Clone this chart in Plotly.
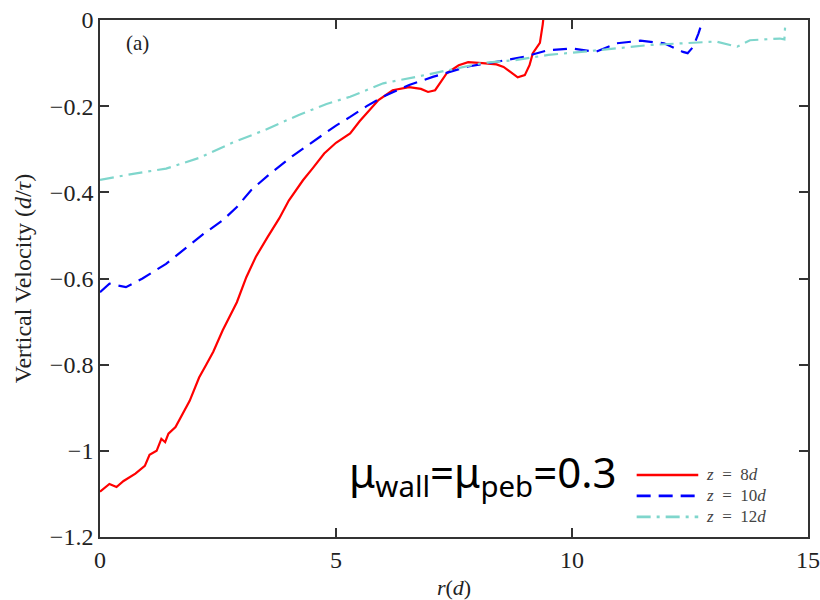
import plotly.graph_objects as go

# ---- data ----
r_z8 = [0, 0.2, 0.35, 0.5, 0.75, 0.95, 1.05, 1.2, 1.3, 1.38, 1.45, 1.6, 1.9, 2.1, 2.25, 2.4,
        2.6, 2.9, 3.1, 3.3, 3.55, 3.8, 4.0, 4.3, 4.5, 4.75, 5.0, 5.3, 5.5, 5.75, 5.9, 6.2,
        6.55, 6.8, 6.95, 7.1, 7.35, 7.6, 7.8, 8.1, 8.4, 8.55, 8.7, 8.85, 9.0, 9.1, 9.17,
        9.32, 9.38, 9.42]
v_z8 = [-1.095, -1.077, -1.084, -1.07, -1.053, -1.035, -1.009, -1.0, -0.972, -0.98, -0.96,
        -0.945, -0.884, -0.83, -0.80, -0.77, -0.72, -0.655, -0.597, -0.55, -0.504, -0.46,
        -0.419, -0.372, -0.345, -0.31, -0.285, -0.263, -0.235, -0.205, -0.186, -0.163,
        -0.156, -0.16, -0.167, -0.163, -0.123, -0.105, -0.098, -0.1, -0.103, -0.109,
        -0.121, -0.133, -0.128, -0.105, -0.077, -0.053, -0.01, 0.03]

r_z10 = [0, 0.2, 0.55, 0.9, 1.4, 1.75, 2.2, 2.6, 2.9, 3.2, 3.6, 4.1, 4.6, 5.0, 5.3, 5.65,
         6.0, 6.55, 7.05, 7.8, 8.4, 9.0, 9.5, 10.0, 10.5, 10.95, 11.45, 11.95, 12.35,
         12.45, 12.57, 12.68, 12.8]
v_z10 = [-0.632, -0.612, -0.62, -0.6, -0.566, -0.535, -0.496, -0.465, -0.434, -0.395,
         -0.357, -0.314, -0.275, -0.245, -0.225, -0.2, -0.178, -0.151, -0.132, -0.108,
         -0.097, -0.085, -0.07, -0.066, -0.074, -0.054, -0.048, -0.054, -0.074, -0.077,
         -0.062, -0.031, 0.01]

r_z12 = [0, 0.7, 1.4, 2.1, 2.8, 3.5, 4.2, 4.8, 5.3, 6.0, 6.7, 7.4, 8.1, 8.8, 9.5, 10.2,
         10.95, 11.65, 12.35, 13.05, 13.5, 13.77, 14.4, 14.5, 14.52]
v_z12 = [-0.371, -0.357, -0.345, -0.32, -0.285, -0.255, -0.221, -0.195, -0.178, -0.147,
         -0.132, -0.116, -0.1, -0.093, -0.081, -0.074, -0.066, -0.058, -0.054, -0.05,
         -0.062, -0.047, -0.043, -0.045, -0.005]

E = "\u2002"
series_names = [f"<i>z</i>{E}={E}8<i>d</i>", f"<i>z</i>{E}={E}10<i>d</i>", f"<i>z</i>{E}={E}12<i>d</i>"]
x_ticks = [0, 5, 10, 15]
y_ticks = [0, -0.2, -0.4, -0.6, -0.8, -1, -1.2]
y_ticktext = ["0", "−0.2", "−0.4", "−0.6", "−0.8", "−1", "−1.2"]

colors = ["#ff0000", "#0000ff", "#7fd6cc"]
dashes = ["solid", "14px,8px", "14px,6px,3px,6px"]

SERIF = "Liberation Serif"

fig = go.Figure()
for (rx, vy), c, d, n in zip([(r_z8, v_z8), (r_z10, v_z10), (r_z12, v_z12)], colors, dashes, series_names):
    fig.add_trace(go.Scatter(x=rx, y=vy, mode="lines", name=n,
                             line=dict(color=c, width=2.2, dash=d), showlegend=False))

# manual legend (line samples + labels, in paper coordinates)
leg_y = [0.12, 0.0795, 0.039]
shapes = []
annotations = []
for c, d, n, ly in zip(colors, dashes, series_names, leg_y):
    shapes.append(dict(type="line", xref="paper", yref="paper", x0=0.758, x1=0.845,
                       y0=ly, y1=ly, line=dict(color=c, width=2.6, dash=d)))
    annotations.append(dict(xref="paper", yref="paper", x=0.853, y=ly, xanchor="left",
                            yanchor="middle", text=n, showarrow=False,
                            font=dict(family=SERIF, size=17, color="#444")))

annotations.append(dict(xref="paper", yref="paper", x=0.034, y=0.955, xanchor="left",
                        yanchor="middle", text="(a)", showarrow=False,
                        font=dict(family=SERIF, size=21, color="#222")))
annotations.append(dict(xref="paper", yref="paper", x=0.54, y=0.12, xanchor="center",
                        yanchor="middle",
                        text="μ<sub>wall</sub>=μ<sub>peb</sub>=0.3", showarrow=False,
                        font=dict(family="Noto Sans", size=42, color="#000")))

axis_common = dict(showline=True, linecolor="#333", linewidth=1.6, mirror="ticks",
                   ticks="inside", ticklen=9, tickwidth=1.6, tickcolor="#333",
                   showgrid=False, zeroline=False, automargin=False,
                   ticklabeloverflow="allow",
                   tickfont=dict(family=SERIF, size=24, color="#222"))

fig.update_layout(
    width=820, height=600,
    margin=dict(l=100, r=12, t=20, b=63),
    plot_bgcolor="white", paper_bgcolor="white",
    xaxis=dict(range=[0, 15], tickvals=x_ticks, ticktext=[str(t) for t in x_ticks],
               title=dict(text="<i>r</i>(<i>d</i>)", font=dict(family=SERIF, size=22, color="#222"),
                          standoff=11),
               **axis_common),
    yaxis=dict(range=[-1.2, 0], tickvals=y_ticks, ticktext=y_ticktext,
               title=dict(text="Vertical Velocity (<i>d</i>/<i>τ</i>)",
                          font=dict(family=SERIF, size=24, color="#222"), standoff=11),
               **axis_common),
    shapes=shapes,
    annotations=annotations,
)

fig.write_html("out.html", config={"displayModeBar": False},
               post_script="document.body.style.margin='0';document.body.style.overflow='hidden';")
